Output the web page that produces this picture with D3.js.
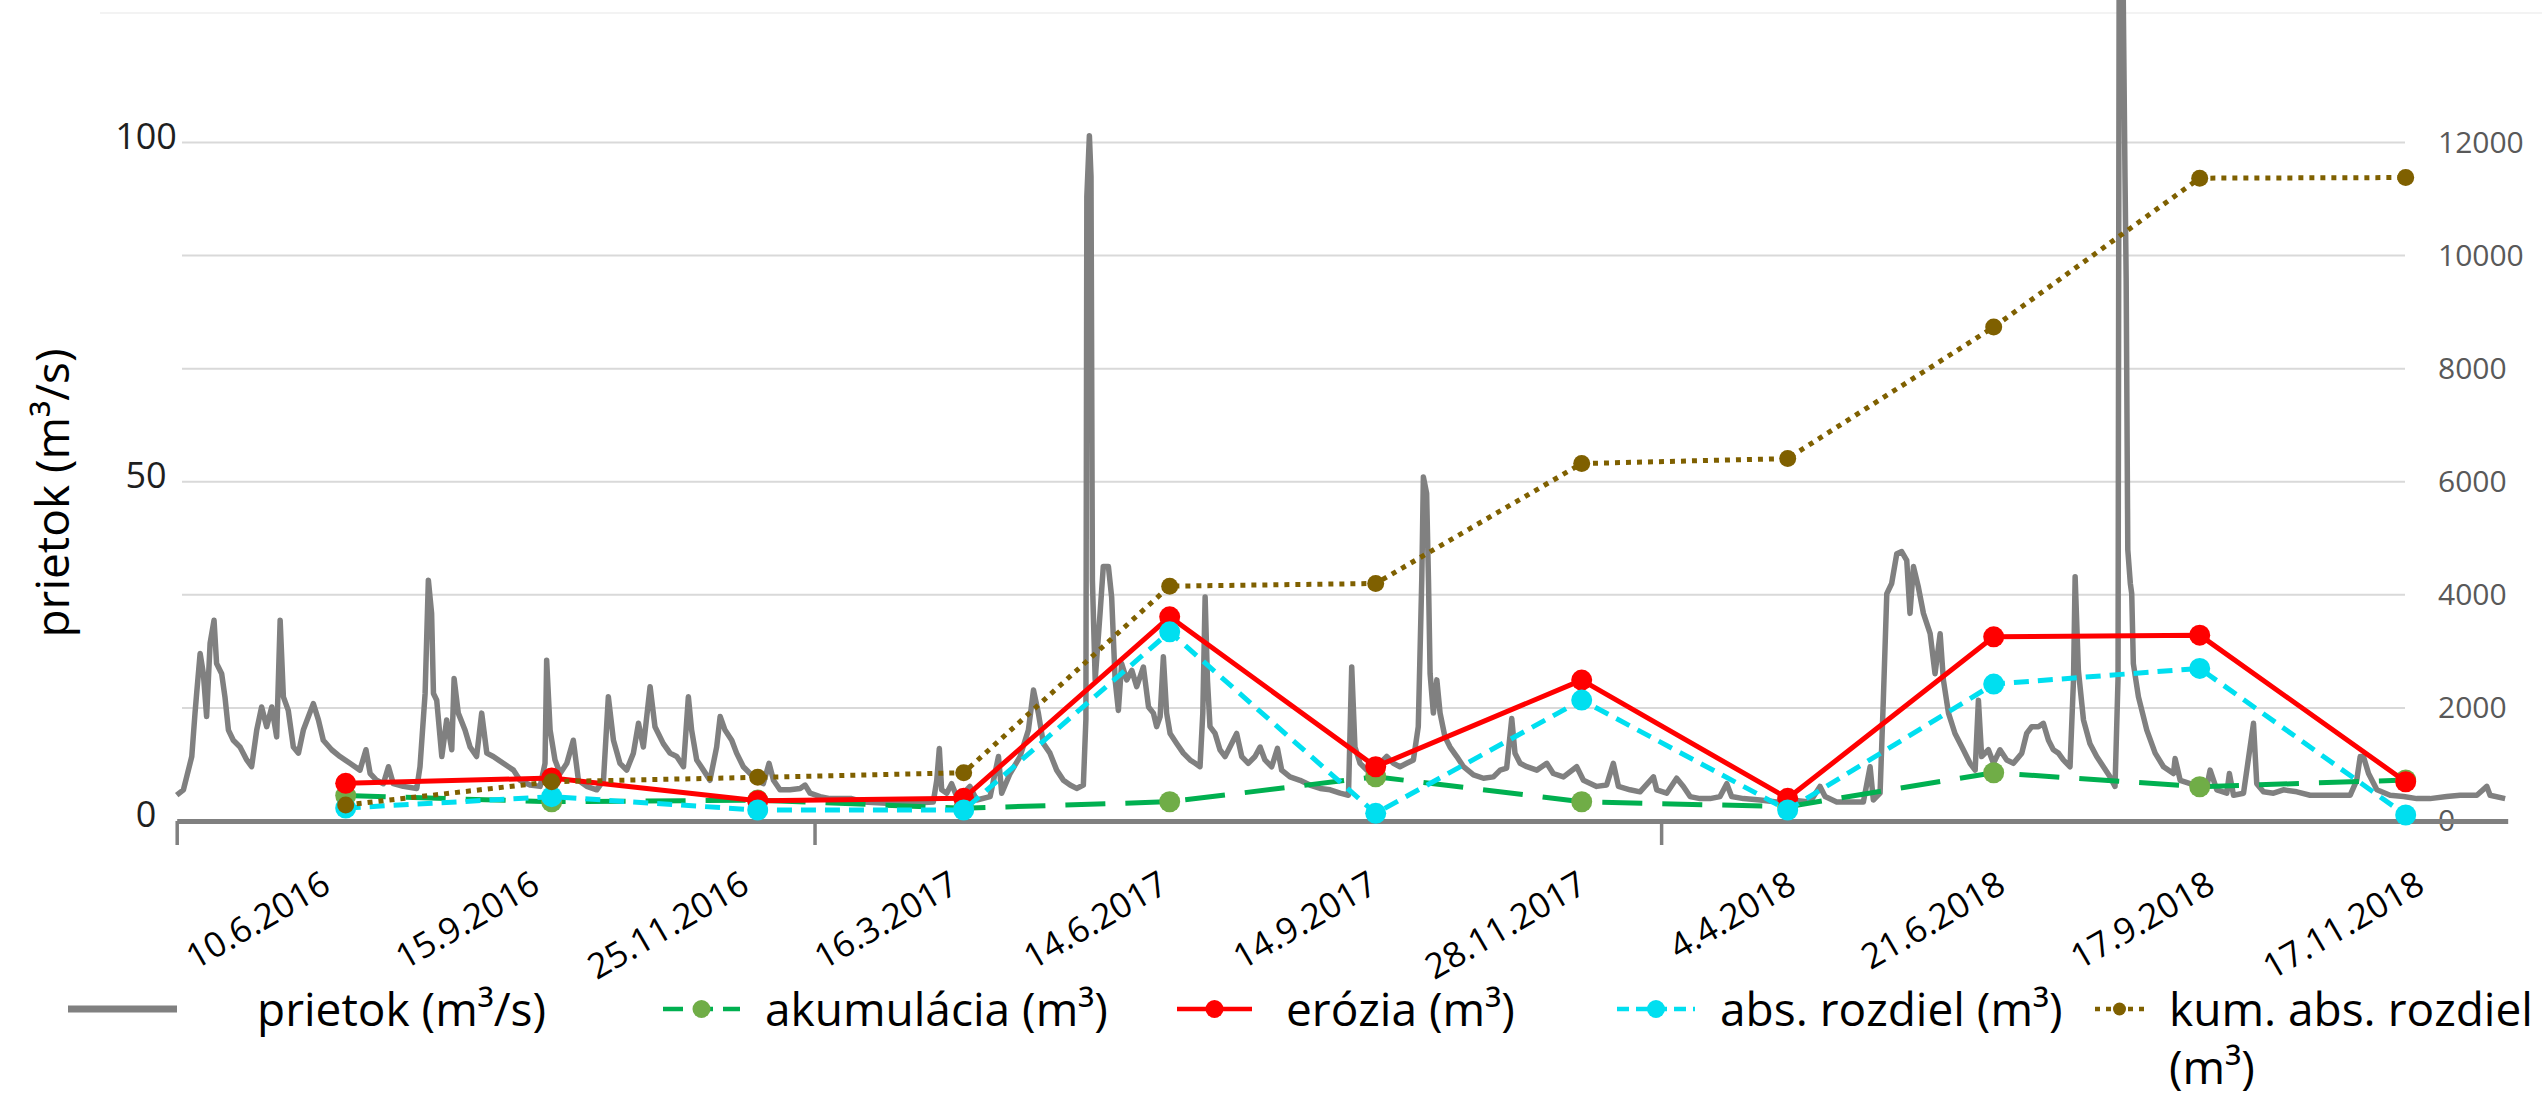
<!DOCTYPE html>
<html><head><meta charset="utf-8">
<script src="https://cdn.jsdelivr.net/npm/d3@7"></script>
<style>
html,body{margin:0;padding:0;background:#fff;}
svg{display:block;font-family:"Open Sans",sans-serif;}
</style></head><body>
<svg id="chart" width="2542" height="1096"></svg>
<script>
// ---- DATA ----
const sampleDates = ["10.6.2016","15.9.2016","25.11.2016","16.3.2017","14.6.2017","14.9.2017","28.11.2017","4.4.2018","21.6.2018","17.9.2018","17.11.2018"];
const akumulacia    = [450, 341, 370, 225, 341, 783, 341, 253, 854, 606, 725];
const erozia        = [666, 760, 359, 401, 3611, 960, 2492, 401, 3257, 3287, 695];
const absRozdiel    = [230, 430, 194, 194, 3346, 136, 2139, 194, 2421, 2699, 106];
const kumAbsRozdiel = [283, 695, 772, 854, 4153, 4201, 6322, 6410, 8736, 11369, 11380];
const leftTicks  = [0, 50, 100];
const rightTicks = [0, 2000, 4000, 6000, 8000, 10000, 12000];
const flowStart = Date.UTC(2016, 3, 1);      // day 0 of the discharge series
const flowEnd   = Date.UTC(2019, 0, 1);
const yearTicks = [Date.UTC(2016,3,1), Date.UTC(2017,0,1), Date.UTC(2018,0,1)];
// discharge [day offset from 1.4.2016, m3/s]
const flowSeries = [
[0,3.8],[2.9,4.6],[4.3,6.5],[6.5,9.5],[7.9,15.9],[8.6,18.8],[10.1,24.7],[11.5,21.7],[12.9,15.4],[14.4,26.2],
[16.1,29.6],[17.2,23.2],[19.4,21.7],[20.8,18.3],[22.3,13.4],[24.4,11.9],[27.3,10.9],[30.2,9.0],[32.3,8.0],[34.5,13.4],
[36.6,16.8],[38.8,13.9],[41.0,16.8],[43.1,12.4],[44.6,29.6],[46.0,18.3],[48.1,16.3],[50.3,10.9],[52.5,10.0],[54.6,13.4],
[56.8,15.4],[58.9,17.3],[61.1,14.9],[63.2,11.9],[66.8,10.5],[70.4,9.5],[74.7,8.5],[79.0,7.5],[81.6,10.5],[83.4,7.0],
[86.2,6.0],[89.1,5.5],[91.3,8.0],[93.4,5.5],[97.7,5.1],[103.5,4.8],[104.9,8.0],[107.1,18.8],[108.5,35.5],[109.9,30.6],
[110.7,18.8],[112.1,17.8],[114.3,9.5],[116.4,14.9],[118.6,10.5],[119.6,21.0],[121.4,15.9],[124.3,13.4],[126.5,10.9],[129.3,9.5],
[131.5,15.9],[133.7,10.0],[136.5,9.5],[140.8,8.5],[145.2,7.5],[148.0,6.0],[152.3,5.3],[156.7,5.1],[158.8,8.5],[159.5,23.7],
[161.0,13.4],[163.1,9.0],[165.3,7.0],[168.2,8.5],[171.0,11.9],[173.2,6.0],[176.8,5.1],[181.1,4.6],[184.0,6.0],[186.1,18.3],
[188.3,11.9],[191.1,8.5],[194.0,7.5],[196.9,10.0],[199.1,14.4],[201.2,10.9],[204.1,19.8],[206.2,13.9],[209.8,11.4],[212.7,10.0],
[215.6,9.5],[218.5,8.0],[220.6,18.3],[222.0,13.4],[224.2,9.0],[227.1,7.5],[229.9,6.0],[232.8,10.9],[234.3,15.4],[236.4,13.4],
[239.3,11.9],[241.4,10.0],[244.3,8.0],[247.2,7.0],[250.1,6.0],[252.9,5.5],[255.4,8.5],[257.3,6.0],[260.1,4.6],[264.4,4.6],
[268.8,4.8],[270.9,5.3],[273.1,4.1],[277.4,3.6],[281.7,3.3],[287.4,3.3],[291.0,3.3],[296.1,2.8],[306.1,2.6],[316.2,2.6],
[326.2,2.8],[327.7,6.0],[328.8,10.7],[329.8,4.6],[332.0,4.1],[334.1,5.5],[336.3,3.6],[339.2,4.1],[342.0,5.1],[344.9,3.1],
[350.7,3.6],[354.3,9.5],[355.7,4.1],[359.3,7.0],[363.6,9.5],[367.2,13.4],[369.4,19.3],[371.5,15.9],[373.7,11.4],[376.5,10.0],
[379.4,7.5],[382.3,6.0],[385.2,5.3],[388.0,4.8],[390.9,5.3],[392.0,15.0],[392.4,92],[393.5,101],[394.2,95],[394.8,35.5],
[396.0,20.8],[398.1,30.6],[399.5,37.5],[401.7,37.5],[403.1,33.0],[404.6,20.8],[406.0,16.3],[407.4,23.2],[409.6,20.8],[411.8,22.2],
[413.9,19.8],[416.8,22.7],[419.0,16.8],[421.1,15.9],[422.5,13.9],[424.0,15.4],[425.4,24.2],[426.8,15.9],[428.3,12.9],[431.2,11.4],
[434.0,10.0],[436.9,9.0],[439.1,8.5],[441.2,8.0],[442.4,15.9],[443.4,33.0],[444.4,20.8],[445.5,13.9],[447.7,12.9],[449.8,10.5],
[452.0,9.5],[454.1,10.9],[457.0,12.9],[459.2,9.5],[462.0,8.5],[464.9,9.5],[467.1,10.9],[469.2,9.0],[472.1,8.0],[474.6,10.7],
[476.4,7.5],[480.0,6.5],[484.3,6.0],[488.6,5.3],[493.0,4.8],[497.3,4.6],[501.6,4.1],[505.2,3.8],[506.6,22.7],[508.0,10.9],
[510.2,8.5],[513.1,7.5],[517.4,8.0],[521.7,9.5],[524.6,8.5],[527.4,8.0],[530.3,8.5],[533.2,9.0],[535.3,13.9],[536.8,35.5],
[537.5,50.7],[538.9,48.3],[539.7,35.5],[540.4,21.7],[541.8,15.9],[543.3,20.8],[544.7,15.9],[546.8,12.4],[549.0,10.9],[551.9,9.5],
[554.8,8.0],[559.1,6.8],[563.4,6.3],[567.7,6.5],[570.6,7.5],[573.4,7.8],[575.6,15.1],[577.0,10.0],[579.2,8.5],[582.1,8.0],
[586.4,7.5],[590.7,8.5],[593.5,7.0],[597.9,6.5],[603.6,8.0],[606.5,6.0],[612.2,5.1],[616.5,5.3],[619.4,8.5],[621.6,5.1],
[626.6,4.6],[630.9,4.3],[636.7,6.5],[638.1,4.6],[642.4,4.1],[646.7,6.3],[649.6,5.1],[652.5,3.6],[656.8,3.3],[661.1,3.3],
[665.4,3.6],[668.3,5.5],[670.4,3.6],[675.5,3.3],[682.7,3.1],[689.8,2.8],[695.6,3.1],[704.2,2.8],[708.5,5.1],[710.7,3.6],
[715.7,2.8],[721.5,2.8],[727.2,2.8],[730.1,8.0],[731.5,3.1],[734.4,4.1],[735.8,17.8],[737.3,33.5],[739.4,35.0],[741.6,39.4],
[743.7,39.7],[745.9,38.4],[747.3,30.6],[748.8,37.5],[750.9,34.5],[753.1,30.6],[756.0,27.6],[758.1,21.7],[760.3,27.6],[761.7,20.8],
[763.9,15.9],[766.7,12.9],[770.3,10.5],[773.2,8.5],[775.4,7.5],[776.8,17.8],[778.2,9.5],[781.1,10.5],[783.3,8.5],[786.1,10.5],
[789.0,9.0],[791.9,8.5],[795.5,10.0],[797.6,12.9],[799.8,13.9],[802.7,13.9],[804.8,14.4],[807.0,11.9],[809.1,10.5],[811.3,10.0],
[813.4,9.0],[816.3,8.0],[817.8,20.8],[818.5,36.0],[819.9,22.2],[822.1,14.9],[824.9,11.4],[827.8,9.5],[830.7,8.0],[833.6,6.5],
[835.7,5.1],[837.0,21.0],[837.5,130],[839.0,130],[840.0,95],[840.5,80],[841.2,40],[842.3,35.0],[842.9,33.5],[843.6,23.2],
[845.8,18.3],[849.4,13.4],[853.0,10.0],[856.6,8.0],[860.9,7.0],[861.6,9.2],[863.8,6.0],[868.1,5.5],[875.3,5.1],[876.7,7.5],
[879.6,4.6],[883.9,4.1],[885.0,7.0],[886.8,3.8],[891.1,4.1],[895.4,14.4],[896.8,5.5],[899.7,4.3],[904.0,4.1],[908.3,4.6],
[914.1,4.3],[919.8,3.8],[925.6,3.8],[931.3,3.8],[937.1,3.8],[939.9,6.0],[941.4,9.5],[942.8,9.5],[945.0,7.0],[948.6,4.6],
[954.3,3.8],[960.1,3.6],[965.8,3.3],[971.5,3.3],[978.7,3.6],[984.5,3.8],[991.7,3.8],[996.0,5.1],[997.4,3.8],[1003.9,3.3]
];

// ---- LAYOUT ----
const svg = d3.select("#chart");
const baseY = 821, topY = 0;
const yL = d3.scaleLinear().domain([0, 121]).range([baseY, topY]);
const yR = d3.scaleLinear().domain([0, 14520]).range([baseY, topY]);
const xCat = d3.scalePoint().domain(sampleDates).range([345.7, 2405.7]);
const xLab = d3.scalePoint().domain(sampleDates).range([332, 2426]);
const xTime = d3.scaleUtc().domain([flowStart, flowEnd]).range([176.7, 2507.7]);
const DAY = 864e5;

const C = {flow:"#808080", green:"#00b050", greenM:"#70ad47", red:"#ff0000", cyan:"#00dff0", brown:"#7f6000", grid:"#d9d9d9"};

// faint chart border at top
svg.append("line").attr("x1",100).attr("x2",2542).attr("y1",13).attr("y2",13)
  .attr("stroke","#f3f3f3").attr("stroke-width",2);

// gridlines
svg.append("g").selectAll("line").data(rightTicks.filter(d=>d>0)).join("line")
  .attr("x1",182).attr("x2",2405).attr("y1",d=>yR(d)).attr("y2",d=>yR(d))
  .attr("stroke",C.grid).attr("stroke-width",2);

// left axis labels
const gL = svg.append("g").attr("transform","translate(146,-6)")
  .call(d3.axisLeft(yL).tickValues(leftTicks).tickSize(0).tickFormat(d3.format("d")));
gL.select(".domain").remove();
gL.selectAll("text").attr("x",0).attr("text-anchor","middle")
  .attr("font-size",36).attr("font-family","Open Sans").attr("fill","#1f1f1f");

// right axis labels
const gR = svg.append("g").attr("transform","translate(2438,0)")
  .call(d3.axisRight(yR).tickValues(rightTicks).tickSize(0).tickPadding(0).tickFormat(d3.format("d")));
gR.select(".domain").remove();
gR.selectAll("text").attr("font-size",30).attr("font-family","Open Sans").attr("fill","#595959");

// discharge line
const flowLine = d3.line().x(d=>xTime(new Date(flowStart + d[0]*DAY))).y(d=>yL(d[1]));
svg.append("path").datum(flowSeries).attr("d",flowLine)
  .attr("fill","none").attr("stroke",C.flow).attr("stroke-width",5.5)
  .attr("stroke-linejoin","round");

// date axis (baseline + year ticks)
const gX = svg.append("g").attr("transform",`translate(0,${baseY})`)
  .call(d3.axisBottom(xTime).tickValues(yearTicks.map(d=>new Date(d))).tickSize(24).tickSizeOuter(0).tickFormat(""));
gX.select(".domain").attr("stroke",C.flow).attr("stroke-width",5);
gX.selectAll(".tick line").attr("stroke",C.flow).attr("stroke-width",3.5);

// category series
const catLine = d3.line().x((d,i)=>xCat(sampleDates[i])).y(d=>yR(d));
function series(vals, color, dash, width, mFill, r){
  svg.append("path").datum(vals).attr("d",catLine).attr("fill","none")
    .attr("stroke",color).attr("stroke-width",width).attr("stroke-dasharray",dash)
    .attr("stroke-linejoin","round");
  svg.append("g").selectAll("circle").data(vals).join("circle")
    .attr("cx",(d,i)=>xCat(sampleDates[i])).attr("cy",d=>yR(d)).attr("r",r).attr("fill",mFill);
}
series(akumulacia, C.green, "40 20", 5, C.greenM, 10.5);
series(erozia, C.red, null, 5, C.red, 10.5);
series(absRozdiel, C.cyan, "15 9", 5, C.cyan, 10.5);
series(kumAbsRozdiel, C.brown, "5 6", 5, C.brown, 8.5);

// category labels
const gC = svg.append("g").attr("transform","translate(0,891)")
  .call(d3.axisBottom(xLab).tickSize(0));
gC.select(".domain").remove();
gC.selectAll("text").attr("x",0).attr("y",0).attr("dy",null)
  .attr("text-anchor","end").attr("transform","rotate(-30)")
  .attr("font-size",35).attr("font-family","Open Sans").attr("fill","#000");

// y-axis title
svg.append("text").attr("transform","translate(69,493) rotate(-90)")
  .attr("text-anchor","middle").attr("font-size",46).attr("fill","#000")
  .text("prietok (m³/s)");

// legend
const legY = 1009, legT = 1026;
const lg = svg.append("g").attr("font-size",46).attr("fill","#000");
lg.append("line").attr("x1",68).attr("x2",177).attr("y1",legY).attr("y2",legY).attr("stroke",C.flow).attr("stroke-width",7);
lg.append("text").attr("x",257).attr("y",legT).text("prietok (m³/s)");
const legItems = [
  {x1:663,x2:740,color:C.green,dash:"20 10",m:C.greenM,r:9,tx:765,label:"akumulácia (m³)"},
  {x1:1177,x2:1252,color:C.red,dash:null,m:C.red,r:9,tx:1286,label:"erózia (m³)"},
  {x1:1617,x2:1695,color:C.cyan,dash:"12 7",m:C.cyan,r:9,tx:1720,label:"abs. rozdiel (m³)"},
  {x1:2095,x2:2144,color:C.brown,dash:"5 6",m:C.brown,r:6.5,tx:2169,label:"kum. abs. rozdiel"}
];
legItems.forEach(it=>{
  lg.append("line").attr("x1",it.x1).attr("x2",it.x2).attr("y1",legY).attr("y2",legY)
    .attr("stroke",it.color).attr("stroke-width",4.5).attr("stroke-dasharray",it.dash);
  lg.append("circle").attr("cx",(it.x1+it.x2)/2).attr("cy",legY).attr("r",it.r).attr("fill",it.m);
  lg.append("text").attr("x",it.tx).attr("y",legT).text(it.label);
});
lg.append("text").attr("x",2169).attr("y",legT+58).text("(m³)");
</script>
</body></html>
